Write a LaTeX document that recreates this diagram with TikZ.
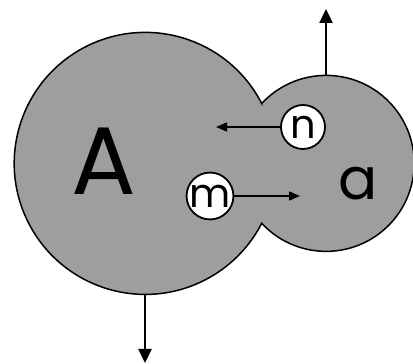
\documentclass[tikz,border=0pt]{standalone}
\usepackage{fontspec}
\newfontfamily\geo{Poppins}
\usetikzlibrary{arrows.meta}

\begin{document}
\begin{tikzpicture}[
    x=1pt, y=1pt,
    >={Triangle[length=14pt,width=13pt]},
    cell/.style={circle, inner sep=0pt, outer sep=0pt},
    ion/.style={
        circle, draw=black, line width=1.8pt,
        minimum size=44pt, inner sep=0pt,
        fill=white, font=\geo\fontsize{40}{40}\selectfont
    },
    lbl/.style={inner sep=0pt, font=\geo\fontsize{96}{96}\selectfont},
    flux/.style={->, line width=2.4pt},
    move/.style={-{Triangle[length=11pt,width=9pt]}, line width=1.6pt}
]
    \useasboundingbox (0,0) rectangle (413,364);

    % Cells (only used for their anchors)
    \node[cell, minimum size=262pt] (A) at (145,201) {};
    \node[cell, minimum size=176pt] (a) at (326,201) {};

    % Joined outline of both cells
    \draw[line width=1.5pt, fill=black!38]
        (A.27.2) arc[start angle=27.2, end angle=332.8, radius=131]
        arc[start angle=222.9, end angle=497.1, radius=88] -- cycle;

    % Cell labels
    \node[lbl] (Alab) at (103.5,202.5) {A};
    \node[lbl, font=\geo\fontsize{58}{58}\selectfont] (alab) at (358,180) {a};

    % Moving particles
    \node[ion] (n) at (303,237) {n};
    \node[ion] (m) at (210,168) {m};

    % Free ends
    \coordinate (nend) at (216,237);
    \coordinate (mend) at (300,168);
    \coordinate (up)   at (326,355);
    \coordinate (down) at (145,1);

    % Arrows
    \draw[move] (n) -- (nend);
    \draw[move] (m) -- (mend);
    \draw[flux] (a.north) -- (up);
    \draw[flux] (A.south) -- (down);

\end{tikzpicture}
\end{document}
